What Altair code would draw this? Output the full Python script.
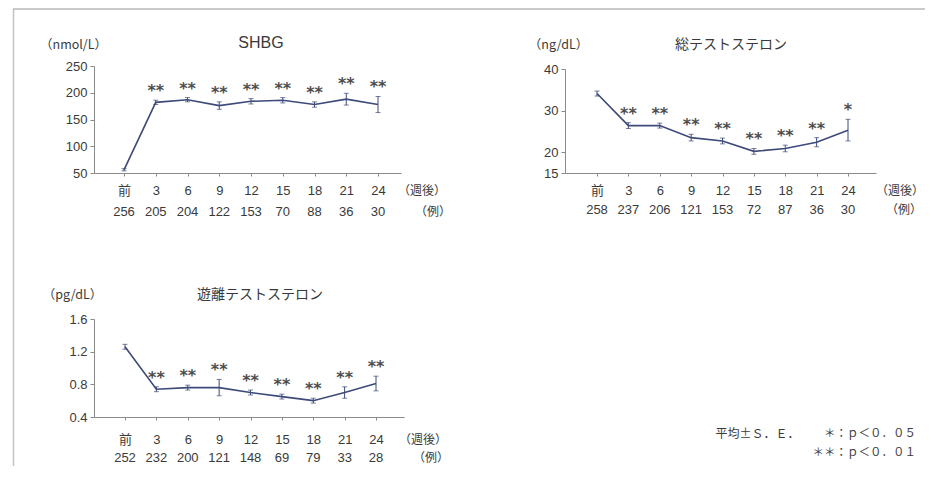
import altair as alt
import pandas as pd

# ---------------- data ----------------
weeks = ["前", "3", "6", "9", "12", "15", "18", "21", "24"]

shbg_mean = [56, 182, 187, 176, 184, 186, 178, 188, 178]
shbg_se = [2, 4, 4, 7, 5, 5, 5, 11, 15]
shbg_n = [256, 205, 204, 122, 153, 70, 88, 36, 30]
shbg_sig = ["", "**", "**", "**", "**", "**", "**", "**", "**"]

tt_mean = [34.1, 26.4, 26.4, 23.5, 22.7, 20.2, 20.9, 22.4, 25.3]
tt_se = [0.6, 0.7, 0.6, 0.8, 0.7, 0.7, 0.8, 1.1, 2.6]
tt_n = [258, 237, 206, 121, 153, 72, 87, 36, 30]
tt_sig = ["", "**", "**", "**", "**", "**", "**", "**", "*"]

ft_mean = [1.26, 0.74, 0.76, 0.76, 0.70, 0.65, 0.60, 0.70, 0.81]
ft_se = [0.03, 0.03, 0.03, 0.10, 0.03, 0.03, 0.03, 0.07, 0.09]
ft_n = [252, 232, 200, 121, 148, 69, 79, 33, 28]
ft_sig = ["", "**", "**", "**", "**", "**", "**", "**", "**"]

titles = ["SHBG", "総テストステロン", "遊離テストステロン"]
units = ["（nmol/L）", "（ng/dL）", "（pg/dL）"]
x_unit = "（週後）"
n_unit = "（例）"
legend_texts = ["平均±Ｓ．Ｅ．", "＊：ｐ＜０．０５", "＊＊：ｐ＜０．０１"]

# ---------------- styles ----------------
LINE = "#3d4a7a"
TXT = "#3a3a3a"
AX = "#8a8a8a"
FONT = "Liberation Sans, Noto Sans CJK JP, sans-serif"
JFONT = "Noto Sans CJK JP, sans-serif"
STARFONT = "DejaVu Sans"

label_expr = "[" + ",".join("'%s'" % w for w in weeks) + "][datum.value]"


def one(text, x, y, align="center", size=12.5, font=JFONT, color=TXT):
    return alt.Chart(pd.DataFrame({"k": [0]})).mark_text(
        align=align, baseline="middle", fontSize=size, font=font, color=color
    ).encode(x=alt.value(x), y=alt.value(y), text=alt.value(text))


def panel(mean, se, n, sig, ydom, yticks, yfmt, width, height, xdom,
          yrange=None, label_pad=8.5, count_y=146, extras=None):
    df = pd.DataFrame({
        "i": list(range(len(weeks))),
        "mean": mean,
        "lo": [m - s for m, s in zip(mean, se)],
        "hi": [m + s for m, s in zip(mean, se)],
        "n": [str(v) for v in n],
        "sig": sig,
    })
    sc = dict(domain=ydom, nice=False, zero=False)
    if yrange is not None:
        sc["range"] = yrange
    x = alt.X("i:Q", scale=alt.Scale(domain=xdom, nice=False, zero=False),
              axis=alt.Axis(values=list(range(9)), tickCount=40, labelExpr=label_expr,
                            title=None, grid=False, tickSize=3, labelPadding=label_pad,
                            labelFontSize=13, labelFont=FONT, labelColor=TXT,
                            domainColor=AX, tickColor=AX, labelFlush=False,
                            labelOverlap=False))
    y = alt.Y("mean:Q", scale=alt.Scale(**sc),
              axis=alt.Axis(values=yticks, tickCount=40, format=yfmt, title=None,
                            grid=False, tickSize=4, labelPadding=3, labelFontSize=13,
                            labelFont=FONT, labelColor=TXT, domainColor=AX,
                            tickColor=AX, labelOverlap=False, labelFlush=False))
    base = alt.Chart(df)
    layers = [
        base.mark_line(color=LINE, strokeWidth=1.6).encode(x=x, y=y),
        base.mark_rule(color=LINE, strokeWidth=1).encode(x="i:Q", y="lo:Q", y2="hi:Q"),
        base.mark_tick(orient="horizontal", size=5, thickness=1, color=LINE).encode(x="i:Q", y="lo:Q"),
        base.mark_tick(orient="horizontal", size=5, thickness=1, color=LINE).encode(x="i:Q", y="hi:Q"),
        base.mark_text(dy=-9, fontSize=16, font=STARFONT, fontWeight="bold", color="#4d4d4d",
                       baseline="middle").encode(x="i:Q", y="hi:Q", text="sig:N"),
        base.mark_text(fontSize=13, font=FONT, color=TXT, baseline="middle").encode(
            x="i:Q", y=alt.value(count_y), text="n:N"),
    ]
    if extras:
        layers += extras
    return alt.layer(*layers).properties(width=width, height=height)


border = [
    alt.Chart(pd.DataFrame({"k": [0]})).mark_rule(color="#c4c4c4", strokeWidth=1.5).encode(
        x=alt.value(-80.5), y=alt.value(-57), y2=alt.value(400)),
    alt.Chart(pd.DataFrame({"k": [0]})).mark_rule(color="#b8b8b8", strokeWidth=1.5).encode(
        x=alt.value(-81), x2=alt.value(831), y=alt.value(-57)),
]

p1 = panel(shbg_mean, shbg_se, shbg_n, shbg_sig, [50, 250], [50, 100, 150, 200, 250], "d",
           307, 107, [-0.945, 8.724], count_y=146,
           extras=border + [
               one(titles[0], 167, -23, size=16, font=FONT),
               one(units[0], -20.5, -21),
               one(x_unit, 328, 125, size=12),
               one(n_unit, 339, 146, size=12),
           ])

p2 = panel(tt_mean, tt_se, tt_n, tt_sig, [15, 40], [15, 20, 30, 40], "d",
           311, 107, [-1.02, 8.892], yrange=[107, 3], count_y=144,
           extras=[
               one(titles[1], 166, -21, size=14),
               one(units[1], -6.5, -21),
               one(x_unit, 335, 125, size=12),
               one(n_unit, 339, 144, size=12),
           ])

p3 = panel(ft_mean, ft_se, ft_n, ft_sig, [0.4, 1.6], [0.4, 0.8, 1.2, 1.6], ".1f",
           310, 98, [-0.988, 8.892], label_pad=13.5, count_y=139,
           extras=[
               one(titles[2], 166, -24, size=14),
               one(units[2], -21.5, -24),
               one(x_unit, 329, 121, size=12),
               one(n_unit, 337, 139, size=12),
               one(legend_texts[0], 663.5, 115, size=12),
               one(legend_texts[1], 822, 115, align="right", size=11.5),
               one(legend_texts[2], 822, 133.5, align="right", size=11.5),
           ])

chart = alt.concat(p1, p2, p3, columns=2, spacing={"row": 146, "column": 161},
                   bounds="flush").properties(
    padding={"left": 4, "top": 0, "right": 0, "bottom": 0},
    background="white",
).configure_view(stroke=None).configure_axis(labelOverlap=False)

chart.save("out.html", embed_options={"renderer": "svg", "actions": False})
